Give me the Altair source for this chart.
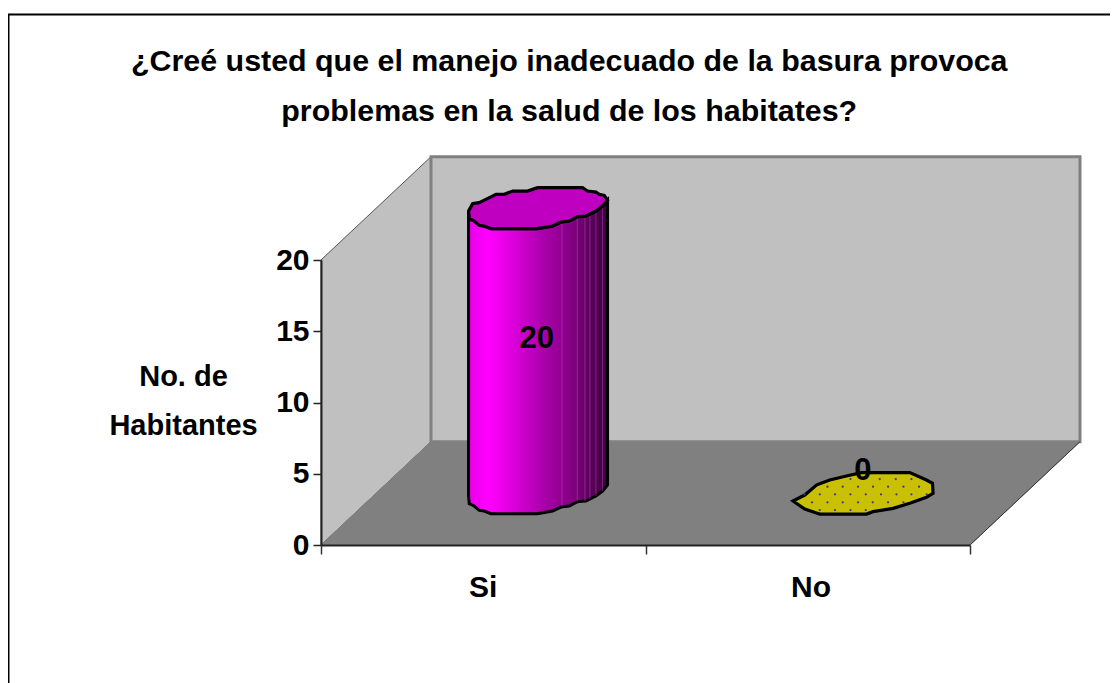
import altair as alt
import numpy as np
import pandas as pd

# ---- values
categories = ["Si", "No"]
values = [20, 0]
label_shift = [0.8, 1.55]
label_dx = [-0.005, 0.0]
category_x = [0.5, 1.51]
title_lines = ["¿Creé usted que el manejo inadecuado de la basura provoca",
               "problemas en la salud de los habitates?"]
title_levels = [33.9, 30.4]
title_center = 0.765
y_title = ["No. de", "Habitantes"]
y_ticks = [0, 5, 10, 15, 20]

# depth of the 3D box, in axis units
depth_x = 0.339
depth_y = 7.25
px_x = 324.5   # px per x unit
px_y = 14.25   # px per y unit
x_max = 2
y_max = 20

# cylinder cross-section outlines (px from centre; y grows downward)
outline_x = [-69.7, -65.7, -59, -42.3, -34, -25.7, -10.7, -0.7, 44.3, 49.3, 57.7, 61, 66, 69.3,
             64.3, 57.7, 47.7, 39.3, 31, 22.7, 14.3, -0.7, -47.3, -54, -59, -64, -69]
outline_y = [2.7, -4.7, -5.7, -14, -14, -17.3, -17.3, -20.7, -20.7, -17.3, -16.3, -14, -13, -8.3,
             -2.3, 2.7, 7.7, 8.3, 12.7, 13.7, 17.7, 20.3, 20.3, 17.7, 17, 12.7, 10.3]
split = 13  # index of the right-most outline vertex

outline2_x = [-69.7, -58, -46.3, -33, -16.3, -1.3, 47, 63.7, 69.7, 70.3,
              63.7, 47, 30.3, 10.3, 3.7, -43, -58]
outline2_y = [7.7, 1.7, -8.3, -13.3, -17.3, -20.7, -20.7, -13.3, -10, 0,
              4, 10, 15, 18.3, 20.7, 20.7, 15.7]
split2 = 9

# facet lines on the cylinder's dark side (px from centre)
facet_x = [23.7, 39, 46.7, 51.7, 57.7, 64.3]

# dots of the yellow pattern (px from centre, one list per row)
dot_rows_y = [-14.3, -6.7, 1, 9, 16.7]
dot_rows_x = [[-12.3, 17, 33, 48.7],
              [-35.3, -20, -4.7, 10.3, 25.3, 40.7, 56.3],
              [-58.3, -43, -27.7, -12.3, 3, 18.3, 33.7, 48.7, 64],
              [-50.7, -35.3, -20, -4.7, 10, 25.3, 40.7],
              [-43, -27.7, -12.3, 3]]


def ux(p):
    return np.asarray(p, dtype=float) / px_x


def uy(p):
    return -np.asarray(p, dtype=float) / px_y


def envelopes(ox, oy, k):
    ux_, uy_ = np.array(ox[:k + 1]), np.array(oy[:k + 1])
    lx_ = np.array(ox[k:] + [ox[0]])[::-1]
    ly_ = np.array(oy[k:] + [oy[0]])[::-1]
    g = np.unique(np.concatenate([ux_, lx_]))
    return g, np.interp(g, ux_, uy_), np.interp(g, lx_, ly_)


shapes = [envelopes(outline_x, outline_y, split), envelopes(outline2_x, outline2_y, split2)]

x_axis = alt.Axis(values=[0, 1, 2], labels=False, tickSize=9, tickWidth=1.5, tickColor="#333333",
                  domainColor="#222222", domainWidth=2, grid=False, zindex=1, title=None)
y_axis = alt.Axis(values=y_ticks, tickSize=8, tickWidth=1.5, tickColor="#222222", domainColor="#222222",
                  domainWidth=2, grid=False, zindex=1, labelFont="Liberation Sans", labelFontWeight="bold",
                  labelFontSize=30, labelColor="black", labelPadding=4,
                  title=y_title, titleAngle=0, titleFont="Liberation Sans", titleFontWeight="bold",
                  titleFontSize=29, titleColor="black", titleLineHeight=49, titleX=-138, titleY=125,
                  titleAlign="center", titleBaseline="alphabetic")
X = alt.X("x:Q", scale=alt.Scale(domain=[0, x_max], nice=False), axis=x_axis)
Y = alt.Y("y:Q", scale=alt.Scale(domain=[0, y_max], nice=False), axis=y_axis)
y2 = alt.Y2("y2:Q")


def area(xs, ys, ys2, **mark):
    df = pd.DataFrame({"x": xs, "y": ys, "y2": ys2})
    return alt.Chart(df).mark_area(**mark).encode(x=X, y=Y, y2=y2)


def path(xs, ys, **mark):
    df = pd.DataFrame({"x": xs, "y": ys, "i": range(len(xs))})
    return alt.Chart(df).mark_line(**mark).encode(x=X, y=Y, order="i:O")


layers = []

# page frame
fx0 = (8.5 - 321) / px_x
fxr = (1118 - 321) / px_x
fy0 = (545 - 14.5) / px_y
fyb = (545 - 683) / px_y
layers.append(path([fx0, fx0, fxr], [fyb, fy0, fy0], color="black", strokeWidth=2))

# left wall
layers.append(area([0, depth_x], [0, depth_y], [y_max, y_max + depth_y],
                   color="#C0C0C0", stroke="#555555", strokeWidth=1))
# back wall
layers.append(area([depth_x, depth_x + x_max], [depth_y, depth_y], [y_max + depth_y, y_max + depth_y],
                   color="#C0C0C0", stroke="#808080", strokeWidth=3))
# floor
layers.append(area([0, depth_x, x_max, x_max + depth_x], [0, depth_y, depth_y, depth_y], [0, 0, 0, depth_y],
                   color="#808080", stroke="#808080", strokeWidth=1))
layers.append(path([x_max, x_max + depth_x], [0, depth_y], color="#333333", strokeWidth=1))

# cylinders
fills = ["#C000C0", "#C8C000"]
body = alt.Gradient(gradient="linear", x1=0, x2=1, y1=0, y2=0, stops=[
    alt.GradientStop(offset=0, color="#E800E8"),
    alt.GradientStop(offset=0.14, color="#FF00FF"),
    alt.GradientStop(offset=0.3, color="#E000E0"),
    alt.GradientStop(offset=0.55, color="#A800A8"),
    alt.GradientStop(offset=0.72, color="#880088"),
    alt.GradientStop(offset=1, color="#3C003C"),
])
base_y = depth_y / 2
for i, (cat, v) in enumerate(zip(categories, values)):
    cx = i + 0.5 + depth_x / 2
    grid, upper, lower = shapes[i]
    if v > 0:
        layers.append(area(cx + ux(grid), base_y + v + uy(lower), base_y + uy(lower),
                           color=body, stroke="black", strokeWidth=3))
        low_at = uy(np.interp(facet_x, grid, lower))
        fdf = pd.DataFrame({"x": cx + ux(facet_x), "y": base_y + low_at, "y2": base_y + v + low_at})
        layers.append(alt.Chart(fdf).mark_rule(color="#C060C0", strokeWidth=1, opacity=0.4).encode(
            x=X, y=Y, y2=y2))
    layers.append(area(cx + ux(grid), base_y + v + uy(upper), base_y + v + uy(lower),
                       color=fills[i], stroke="black", strokeWidth=3.2))
    if v == 0:
        dx = [d for row in dot_rows_x for d in row]
        dy = [r for r, row in zip(dot_rows_y, dot_rows_x) for _ in row]
        ddf = pd.DataFrame({"x": cx + ux(dx), "y": base_y + v + uy(dy)})
        layers.append(alt.Chart(ddf).mark_point(filled=True, size=5, color="#3A3A90", opacity=1).encode(
            x=X, y=Y))

# data labels
ldf = pd.DataFrame({
    "x": [i + 0.5 + depth_x / 2 + label_dx[i] for i in range(2)],
    "y": [base_y + v / 2 + label_shift[i] for i, v in enumerate(values)],
    "t": [str(v) for v in values]})
layers.append(alt.Chart(ldf).mark_text(font="Liberation Sans", fontWeight="bold", fontSize=31, color="black",
                                       baseline="middle").encode(x=X, y=Y, text="t:N"))

# category labels
cdf = pd.DataFrame({"x": category_x, "y": [-3.0, -3.0], "t": categories})
layers.append(alt.Chart(cdf).mark_text(font="Liberation Sans", fontWeight="bold", fontSize=30, color="black",
                                       baseline="middle").encode(x=X, y=Y, text="t:N"))

# chart heading
tdf = pd.DataFrame({"x": [title_center] * 2, "y": title_levels, "t": title_lines})
layers.append(alt.Chart(tdf).mark_text(font="Liberation Sans", fontWeight="bold", fontSize=30.4, color="black",
                                       baseline="middle").encode(x=X, y=Y, text="t:N"))

chart = alt.layer(*layers).properties(
    width=649, height=285,
    autosize=alt.AutoSizeParams(type="none"),
    padding={"left": 313, "top": 252, "right": 140, "bottom": 138},
    background="white",
).configure_view(stroke=None)

chart.save("out.html", embed_options={"renderer": "svg", "actions": False})
